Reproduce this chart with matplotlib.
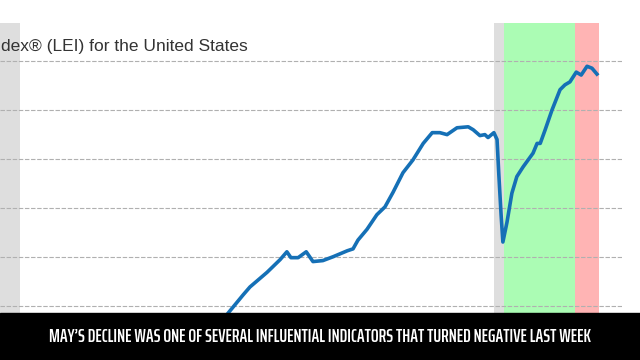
import matplotlib
matplotlib.use("Agg")
import matplotlib.pyplot as plt
from matplotlib.patches import Rectangle
from matplotlib import font_manager

# fechas en años decimales, valores del índice
fechas = [2014.00, 2014.17, 2014.51, 2014.66, 2015.04, 2015.33, 2015.48, 2015.57,
          2015.73, 2015.91, 2016.06, 2016.28, 2016.51, 2016.82, 2016.95, 2017.06,
          2017.26, 2017.48, 2017.66, 2017.84, 2018.06, 2018.28, 2018.51, 2018.71,
          2018.88, 2019.04, 2019.26, 2019.51, 2019.62, 2019.77, 2019.88, 2019.95,
          2020.08, 2020.15, 2020.19, 2020.24, 2020.28, 2020.37, 2020.48, 2020.59,
          2020.73, 2020.95, 2021.04, 2021.11, 2021.22, 2021.37, 2021.55, 2021.66,
          2021.77, 2021.91, 2022.02, 2022.15, 2022.26, 2022.37]
valores = [93.0, 94.2, 96.1, 96.9, 98.4, 99.7, 100.5, 99.9,
           99.9, 100.5, 99.5, 99.6, 100.0, 100.6, 100.8, 101.7,
           102.8, 104.3, 105.1, 106.6, 108.6, 109.9, 111.6, 112.7,
           112.7, 112.5, 113.2, 113.3, 113.0, 112.4, 112.5, 112.2,
           112.7, 112.0, 108.4, 104.3, 101.5, 103.5, 106.5, 108.2,
           109.2, 110.6, 111.6, 111.6, 113.0, 115.0, 117.1, 117.6,
           117.9, 118.9, 118.6, 119.5, 119.3, 118.7]

recesiones = [(2007.9, 2009.55), (2020.08, 2020.31)]
tramoVerde = (2020.31, 2021.88)
tramoRojo = (2021.88, 2022.42)
lineasGrid = [95, 100, 105, 110, 115, 120]

titulo = "dex® (LEI) for the United States"
subtitulo = "MAY’S DECLINE WAS ONE OF SEVERAL INFLUENTIAL INDICATORS THAT TURNED NEGATIVE LAST WEEK"

fig = plt.figure(figsize=(6.4, 3.6), dpi=100)
ax = fig.add_axes([0, 0, 622 / 640, 337 / 360])

for inicio, fin in recesiones:
    ax.axvspan(inicio, fin, color="#dedede", lw=0)
ax.axvspan(*tramoVerde, color="#abfcb4", lw=0)
ax.axvspan(*tramoRojo, color="#ffb4b4", lw=0)

ax.plot(fechas, valores, color="#1570b6", lw=2.6, solid_joinstyle="round")

ax.set_xlim(2009.105, 2022.927)
ax.set_ylim(89.42, 123.93)
ax.set_yticks(lineasGrid)
ax.grid(axis="y", color="#b0b0b0", linestyle=(0, (4, 1.5)), lw=0.8)
ax.tick_params(left=False, bottom=False, labelleft=False, labelbottom=False)
for lado in ax.spines.values():
    lado.set_visible(False)

fig.text(0.002, 0.858, titulo, fontsize=12.5, color="#333333",
         family=["Liberation Sans", "DejaVu Sans"], va="baseline")

# buscar alguna fuente estrecha instalada
estrecha = None
for f in font_manager.fontManager.ttflist:
    nombre = f.fname.lower()
    if ("condensed" in nombre or "narrow" in nombre) and "bold" in nombre:
        if estrecha is None or "extracondensed" in nombre.replace("-", "").replace("_", ""):
            estrecha = f.fname

# barra negra con el subtitulo
fig.patches.append(Rectangle((0, 0), 1, 47 / 360, transform=fig.transFigure,
                             color="black", zorder=5))
if estrecha:
    propiedades = dict(fontproperties=font_manager.FontProperties(fname=estrecha, size=12))
else:
    propiedades = dict(fontsize=12, weight="bold", family=["DejaVu Sans"], stretch="condensed")
texto = fig.text(0.5, 0.065, subtitulo, color="white", ha="center",
                 va="center", zorder=6, **propiedades)

# ajustar el tamaño para que ocupe lo mismo que en la imagen (~544 px)
fig.canvas.draw()
ancho = texto.get_window_extent().width
texto.set_fontsize(min(12 * 544 / ancho, 14))

fig.savefig("out.png", dpi=100)
